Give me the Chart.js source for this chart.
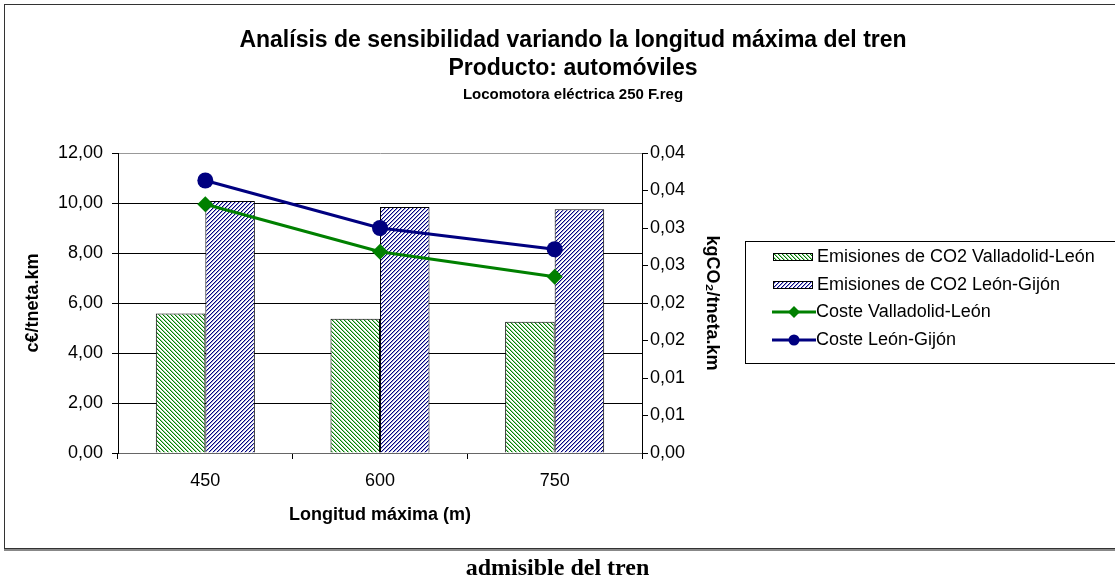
<!DOCTYPE html>
<html lang="es">
<head>
<meta charset="utf-8">
<title>Análisis de sensibilidad - longitud máxima del tren</title>
<script src="https://cdn.jsdelivr.net/npm/chart.js@4.4.1/dist/chart.umd.min.js"></script>
<style>
  html, body { margin: 0; padding: 0; background: #fff; overflow: hidden; }
  #marco { position: absolute; left: 4px; top: 4px; width: 1200px; height: 543px; border: 1px solid #333; box-shadow: 0 2px 0 #888; background: #fff; }
  #grafico { position: absolute; left: 0; top: 0; }
  #pie { position: absolute; left: 0; top: 554px; width: 1115px; text-align: center; font: bold 24px "Liberation Serif", "Times New Roman", serif; color: #000; }
</style>
</head>
<body>
<div id="marco"></div>
<canvas id="grafico" width="1115" height="585"></canvas>
<div id="pie">admisible del tren</div>

<script>
// datos
const categorias = ['450', '600', '750'];
const emisionesVallLeon = [0.0186, 0.0179, 0.0175];
const emisionesLeonGijon = [0.0336, 0.0328, 0.0325];
const costeVallLeon = [9.95, 8.05, 7.05];
const costeLeonGijon = [10.9, 9.0, 8.15];
const ticksDerecha = ['0,00', '0,01', '0,01', '0,02', '0,02', '0,03', '0,03', '0,04', '0,04'];
const titulos = ['Analísis de sensibilidad variando la longitud máxima del tren', 'Producto: automóviles'];
const subtitulo = 'Locomotora eléctrica 250 F.reg';

const FUENTE = '"Liberation Sans", Arial, sans-serif';
Chart.defaults.font.family = FUENTE;
Chart.defaults.color = '#000';

// rayado de las barras
function rayado(color, claro, sentido) {
  const c = document.createElement('canvas');
  c.width = 8; c.height = 8;
  const g = c.getContext('2d');
  g.fillStyle = '#fff';
  g.fillRect(0, 0, 8, 8);
  for (let x = 0; x < 8; x++) {
    for (let y = 0; y < 8; y++) {
      const d = ((sentido > 0 ? x + y : x - y) % 4 + 4) % 4;
      if (d === 0) { g.fillStyle = color; g.fillRect(x, y, 1, 1); }
      else if (d === 1) { g.fillStyle = claro; g.fillRect(x, y, 1, 1); }
    }
  }
  return g.createPattern(c, 'repeat');
}

const ctx = document.getElementById('grafico').getContext('2d');
const rayaVerde = rayado('#008000', '#9fd09f', -1);
const rayaAzul = rayado('#000080', '#9f9fd0', 1);

// titulos centrados sobre el marco, no sobre el area del grafico
const cabecera = {
  id: 'cabecera',
  afterDraw(chart) {
    const c = chart.ctx;
    c.save();
    c.fillStyle = '#000';
    c.textAlign = 'center';
    c.textBaseline = 'middle';
    c.font = 'bold 23px ' + FUENTE;
    c.fillText(titulos[0], 573, 41);
    c.fillText(titulos[1], 573, 69);
    c.font = 'bold 15px ' + FUENTE;
    c.fillText(subtitulo, 573, 95);
    c.restore();
  }
};

const leyenda = {
  id: 'leyenda',
  afterDraw(chart) {
    const c = chart.ctx;
    c.save();
    c.strokeStyle = '#000';
    c.lineWidth = 1;
    c.strokeRect(745.5, 241.5, 420, 122);
    c.font = '18px ' + FUENTE;
    c.textBaseline = 'middle';
    chart.data.datasets.forEach((ds, i) => {
      const y = Math.round(257 + i * 27.5);
      if (ds.type === 'bar') {
        c.fillStyle = ds.backgroundColor;
        c.fillRect(773, y - 3, 40, 7);
        c.strokeStyle = '#000';
        c.lineWidth = 1;
        c.strokeRect(773.5, y - 3.5, 39, 7);
        c.fillStyle = '#000';
        c.fillText(ds.label, 817, y);
      } else {
        c.strokeStyle = ds.borderColor;
        c.lineWidth = 3;
        c.beginPath();
        c.moveTo(772, y);
        c.lineTo(816, y);
        c.stroke();
        c.fillStyle = ds.borderColor;
        c.beginPath();
        if (ds.pointStyle === 'circle') {
          c.arc(794, y, 5.5, 0, Math.PI * 2);
        } else {
          c.moveTo(794, y - 6); c.lineTo(800, y); c.lineTo(794, y + 6); c.lineTo(788, y);
          c.closePath();
        }
        c.fill();
        c.fillStyle = '#000';
        c.fillText(ds.label, 816, y);
      }
    });
    c.restore();
  }
};

new Chart(ctx, {
  type: 'bar',
  data: {
    labels: categorias,
    datasets: [
      {
        type: 'bar',
        label: 'Emisiones de CO2 Valladolid-León',
        data: emisionesVallLeon,
        yAxisID: 'y2',
        backgroundColor: rayaVerde,
        borderColor: '#000',
        borderWidth: 1,
        barPercentage: 1,
        categoryPercentage: 0.567,
        order: 2
      },
      {
        type: 'bar',
        label: 'Emisiones de CO2 León-Gijón',
        data: emisionesLeonGijon,
        yAxisID: 'y2',
        backgroundColor: rayaAzul,
        borderColor: '#000',
        borderWidth: 1,
        barPercentage: 1,
        categoryPercentage: 0.567,
        order: 2
      },
      {
        type: 'line',
        label: 'Coste Valladolid-León',
        data: costeVallLeon,
        yAxisID: 'y',
        borderColor: '#008000',
        backgroundColor: '#008000',
        borderWidth: 3,
        pointStyle: 'rectRot',
        pointRadius: 8,
        pointBorderWidth: 0,
        tension: 0,
        order: 1
      },
      {
        type: 'line',
        label: 'Coste León-Gijón',
        data: costeLeonGijon,
        yAxisID: 'y',
        borderColor: '#000080',
        backgroundColor: '#000080',
        borderWidth: 3,
        pointStyle: 'circle',
        pointRadius: 8,
        pointBorderWidth: 0,
        tension: 0,
        order: 0
      }
    ]
  },
  options: {
    responsive: false,
    animation: false,
    layout: { padding: { left: 18, right: 390, top: 153, bottom: 57 } },
    plugins: {
      legend: { display: false },
      tooltip: { enabled: false },
      title: { display: false },
      subtitle: { display: false }
    },
    scales: {
      x: {
        grid: { display: true, drawOnChartArea: false, tickLength: 6, color: '#000' },
        border: { color: '#666' },
        ticks: { font: { size: 18 }, padding: 11 },
        title: { display: true, text: 'Longitud máxima (m)', font: { size: 18, weight: 'bold' }, padding: { top: 4, bottom: 2 } },
        afterFit(scale) { scale.height = 75; }
      },
      y: {
        position: 'left',
        min: 0,
        max: 12,
        ticks: {
          stepSize: 2,
          font: { size: 18 },
          padding: 9,
          callback: v => v.toFixed(2).replace('.', ',')
        },
        grid: {
          tickLength: 6,
          color: c => c.tick && c.tick.value === 12 ? '#999' : '#000',
          tickColor: '#000'
        },
        border: { color: '#000' },
        title: { display: true, text: 'c€/tneta.km', font: { size: 18, weight: 'bold' }, padding: { top: 4, bottom: 0 } },
        afterFit(scale) { scale.width = 100; }
      },
      y2: {
        position: 'right',
        min: 0,
        max: 0.04,
        ticks: {
          stepSize: 0.005,
          autoSkip: false,
          font: { size: 18 },
          padding: 2,
          callback: (v, i) => ticksDerecha[i]
        },
        grid: { drawOnChartArea: false, tickLength: 6, color: '#000' },
        border: { color: '#000' },
        title: { display: true, text: 'kgCO₂/tneta.km', font: { size: 18, weight: 'bold' }, padding: { top: 2, bottom: 0 } },
        afterFit(scale) { scale.width = 83; }
      }
    }
  },
  plugins: [cabecera, leyenda]
});
</script>
</body>
</html>
